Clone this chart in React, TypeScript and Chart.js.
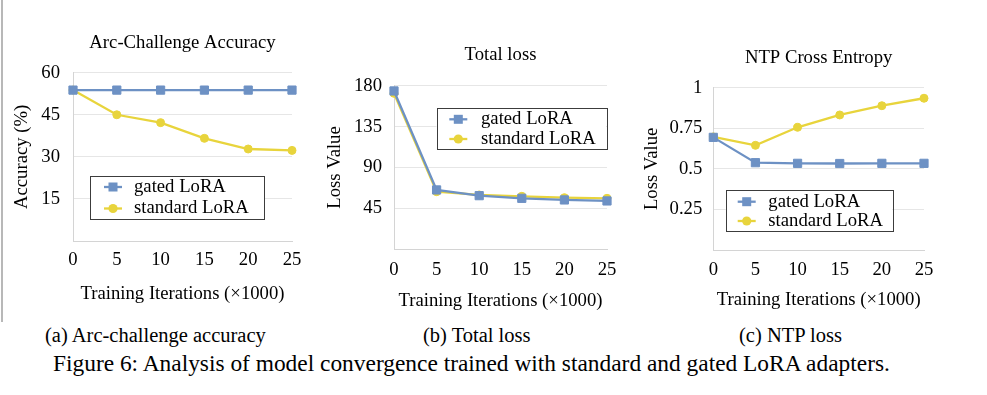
import React, { useEffect, useRef } from "react";
import { Chart, registerables } from "chart.js";
Chart.register(...registerables);

// ---- data ----
const iterations = ["0", "5", "10", "15", "20", "25"];
const seriesNames = ["gated LoRA", "standard LoRA"];
const arcGated = [53.8, 53.8, 53.8, 53.8, 53.8, 53.8];
const arcStandard = [53.8, 45.0, 42.2, 36.6, 32.8, 32.3];
const lossGated = [174.2, 65.3, 59.0, 56.1, 54.3, 53.2];
const lossStandard = [171.6, 63.4, 59.8, 58.3, 56.8, 56.1];
const ntpGated = [0.694, 0.538, 0.534, 0.533, 0.534, 0.534];
const ntpStandard = [0.697, 0.645, 0.756, 0.832, 0.889, 0.935];
const arcYTicks = [15, 30, 45, 60];
const lossYTicks = [45, 90, 135, 180];
const ntpYTicks = [0.25, 0.5, 0.75, 1];

const titles = ["Arc-Challenge Accuracy", "Total loss", "NTP Cross Entropy"];
const yTitles = ["Accuracy (%)", "Loss Value", "Loss Value"];
const xTitle = "Training Iterations (×1000)";
const captions = ["(a) Arc-challenge accuracy", "(b) Total loss", "(c) NTP loss"];
const figureCaption =
  "Figure 6: Analysis of model convergence trained with standard and gated LoRA adapters.";

// ---- styles / layout ----
const FONT = "'Liberation Serif', 'Times New Roman', Times, serif";
const FS = 18.7;
const BLUE = "#6d91c4";
const YELLOW = "#e8d43c";
const CH = 320;

type Layout = {
  canvasLeft: number;
  canvasWidth: number;
  plot: { l: number; r: number; t: number; b: number };
  titleY: number;
  yTitleX: number;
  xTickY: number;
  xTitleY: number;
  yTickPad: number;
  legend: { x: number; y: number; w: number; h: number; rows: number[]; markerX: number; textX: number };
};

const layouts: Layout[] = [
  {
    canvasLeft: 0,
    canvasWidth: 312,
    plot: { l: 73, r: 292, t: 72.7, b: 241 },
    titleY: 43,
    yTitleX: 22,
    xTickY: 260,
    xTitleY: 294,
    yTickPad: 13,
    legend: { x: 90, y: 175.5, w: 174, h: 43, rows: [187, 208.5], markerX: 113, textX: 134 },
  },
  {
    canvasLeft: 316,
    canvasWidth: 316,
    plot: { l: 394, r: 607, t: 85.7, b: 249.3 },
    titleY: 55,
    yTitleX: 335,
    xTickY: 270,
    xTitleY: 301.5,
    yTickPad: 12,
    legend: { x: 436.5, y: 108, w: 169.5, h: 40.5, rows: [119.3, 139], markerX: 458.3, textX: 481 },
  },
  {
    canvasLeft: 636,
    canvasWidth: 351,
    plot: { l: 713.3, r: 924, t: 87.7, b: 250 },
    titleY: 58,
    yTitleX: 652,
    xTickY: 270,
    xTitleY: 300,
    yTickPad: 11,
    legend: { x: 725.7, y: 190, w: 166.5, h: 40.5, rows: [201.7, 221], markerX: 746.7, textX: 768.3 },
  },
];

const panelData = [
  { gated: arcGated, standard: arcStandard, yTicks: arcYTicks },
  { gated: lossGated, standard: lossStandard, yTicks: lossYTicks },
  { gated: ntpGated, standard: ntpStandard, yTicks: ntpYTicks },
];

const boxLegendPlugin = {
  id: "boxLegend",
  afterDatasetsDraw(chart: any, _args: any, opts: any) {
    if (!opts || !opts.rows) return;
    const ctx = chart.ctx as CanvasRenderingContext2D;
    const { x, y, w, h, rows, markerX, textX } = opts;
    ctx.save();
    ctx.fillStyle = "#ffffff";
    ctx.fillRect(x, y, w, h);
    ctx.strokeStyle = "#3c3c3c";
    ctx.lineWidth = 1;
    ctx.strokeRect(Math.round(x) + 0.5, Math.round(y) + 0.5, Math.round(w), Math.round(h));
    chart.data.datasets.forEach((ds: any, i: number) => {
      const ry = rows[i];
      ctx.strokeStyle = ds.borderColor;
      ctx.lineWidth = ds.borderWidth;
      ctx.beginPath();
      ctx.moveTo(markerX - 9, ry);
      ctx.lineTo(markerX + 9, ry);
      ctx.stroke();
      ctx.fillStyle = ds.pointBackgroundColor;
      if (ds.pointStyle === "rect") {
        ctx.fillRect(markerX - 4.5, ry - 4.5, 9, 9);
      } else {
        ctx.beginPath();
        ctx.arc(markerX, ry, 4.6, 0, Math.PI * 2);
        ctx.fill();
      }
      ctx.fillStyle = "#000";
      ctx.font = `${FS}px ${FONT}`;
      ctx.textBaseline = "middle";
      ctx.textAlign = "left";
      ctx.fillText(seriesNames[i], textX, ry);
    });
    ctx.restore();
  },
};

function Panel({ idx }: { idx: number }) {
  const ref = useRef<HTMLCanvasElement>(null);
  useEffect(() => {
    const L = layouts[idx];
    const D = panelData[idx];
    const cl = L.canvasLeft;
    const font = { family: FONT, size: FS, weight: "normal" as const, lineHeight: 1.2 };
    const half = (FS * 1.2) / 2;
    const yMax = D.yTicks[D.yTicks.length - 1];
    const yStep = D.yTicks[1] - D.yTicks[0];
    const chart = new Chart(ref.current as HTMLCanvasElement, {
      type: "line",
      data: {
        labels: iterations,
        datasets: [
          {
            label: seriesNames[0],
            data: D.gated,
            borderColor: BLUE,
            backgroundColor: BLUE,
            pointBackgroundColor: BLUE,
            pointBorderColor: BLUE,
            pointStyle: "rect",
            pointRadius: 5.8,
            pointBorderWidth: 1,
            borderWidth: 2.3,
          } as any,
          {
            label: seriesNames[1],
            data: D.standard,
            borderColor: YELLOW,
            backgroundColor: YELLOW,
            pointBackgroundColor: YELLOW,
            pointBorderColor: YELLOW,
            pointStyle: "circle",
            pointRadius: 4,
            pointBorderWidth: 1,
            borderWidth: 2.3,
          } as any,
        ],
      },
      options: {
        responsive: false,
        animation: false,
        devicePixelRatio: 1,
        layout: { padding: { left: 0, top: 0, bottom: 0, right: cl + L.canvasWidth - L.plot.r } },
        plugins: {
          legend: { display: false },
          tooltip: { enabled: false },
          title: {
            display: true,
            fullSize: false,
            text: titles[idx],
            color: "#000",
            font,
            padding: { top: L.titleY - half, bottom: L.plot.t - L.titleY - half },
          },
          boxLegend: {
            x: L.legend.x - cl,
            y: L.legend.y,
            w: L.legend.w,
            h: L.legend.h,
            rows: L.legend.rows,
            markerX: L.legend.markerX - cl,
            textX: L.legend.textX - cl,
          },
        } as any,
        scales: {
          x: {
            type: "category",
            offset: false,
            grid: { display: false, drawTicks: false },
            border: { display: true, color: "#d4d4d4", width: 1 },
            ticks: {
              color: "#000",
              font,
              padding: L.xTickY - L.plot.b - half,
              maxRotation: 0,
              autoSkip: false,
            },
            title: {
              display: true,
              text: xTitle,
              color: "#000",
              font,
              padding: { top: 0, bottom: CH - L.xTitleY - half },
            },
            afterFit: (s: any) => {
              s.height = CH - L.plot.b;
            },
          },
          y: {
            min: 0,
            max: yMax,
            grid: { color: "#e6e6e6", drawTicks: false, lineWidth: 1 },
            border: { display: true, color: "#d4d4d4", width: 1 },
            ticks: {
              stepSize: yStep,
              color: "#000",
              font,
              padding: L.yTickPad,
              callback: (v: any) => (Number(v) === 0 ? "" : String(Math.round(Number(v) * 100) / 100)),
            },
            title: {
              display: true,
              text: yTitles[idx],
              color: "#000",
              font,
              padding: { top: L.yTitleX - cl - half, bottom: 0 },
            },
            afterFit: (s: any) => {
              s.width = L.plot.l - cl;
            },
          },
        },
      } as any,
      plugins: [boxLegendPlugin],
    });
    return () => chart.destroy();
  }, [idx]);
  const L = layouts[idx];
  return (
    <canvas
      ref={ref}
      width={L.canvasWidth}
      height={CH}
      style={{ position: "absolute", left: L.canvasLeft, top: 0, width: L.canvasWidth, height: CH }}
    />
  );
}

const captionLefts = [45, 423, 739];

export default function App() {
  return (
    <div
      style={{
        position: "absolute",
        left: 0,
        top: 0,
        width: 987,
        height: 395,
        background: "#fff",
        overflow: "hidden",
        fontFamily: FONT,
        color: "#000",
      }}
    >
      <div style={{ position: "absolute", left: 1, top: 0, width: 2, height: 322, background: "#b8b8b8" }} />
      {layouts.map((_, i) => (
        <Panel key={i} idx={i} />
      ))}
      {captions.map((c, i) => (
        <div
          key={c}
          style={{
            position: "absolute",
            left: captionLefts[i],
            top: 324.5,
            fontSize: 20.5,
            lineHeight: "20.5px",
            whiteSpace: "nowrap",
          }}
        >
          {c}
        </div>
      ))}
      <div
        style={{
          position: "absolute",
          left: 53,
          top: 351.5,
          fontSize: 23.4,
          lineHeight: "23.4px",
          whiteSpace: "nowrap",
        }}
      >
        {figureCaption}
      </div>
    </div>
  );
}
